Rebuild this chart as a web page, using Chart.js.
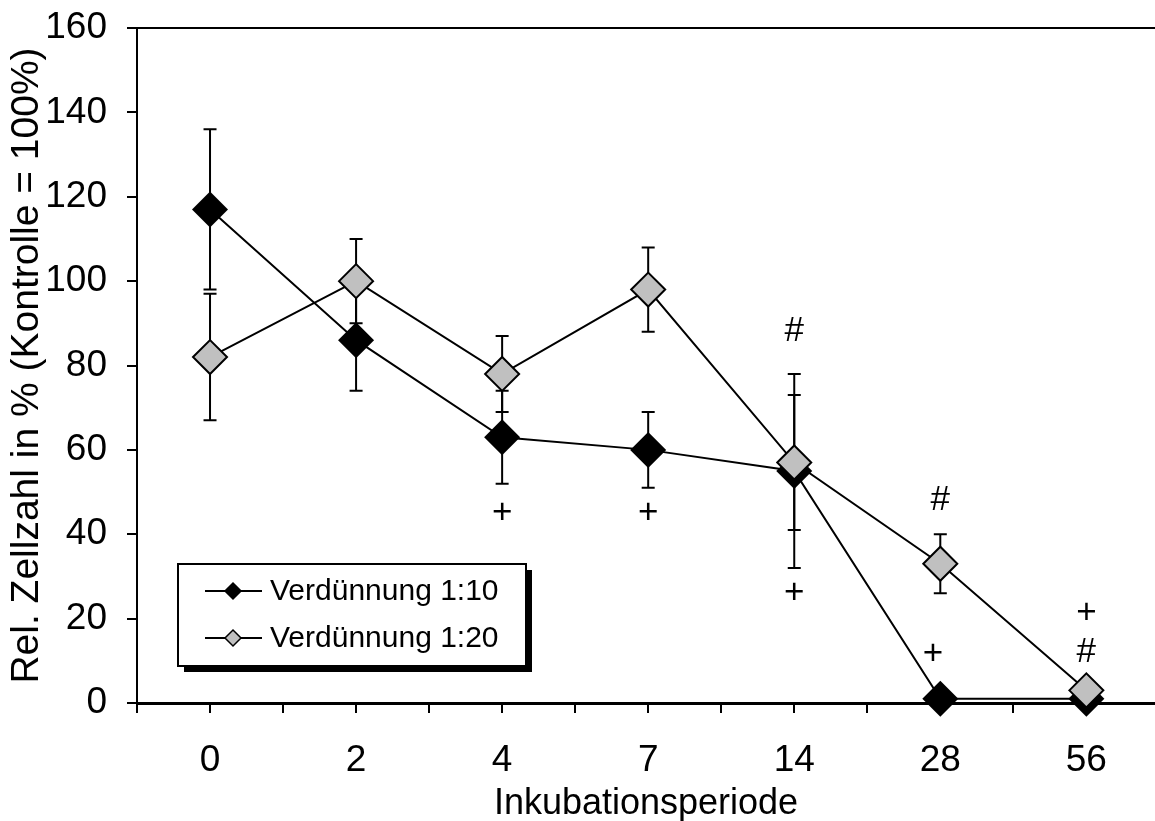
<!DOCTYPE html>
<html><head><meta charset="utf-8">
<script src="https://cdn.jsdelivr.net/npm/chart.js@4.4.0/dist/chart.umd.min.js"></script>
<style>html,body{margin:0;padding:0;background:#fff;overflow:hidden}#wrap{width:1155px;height:821px;position:relative}</style>
</head><body><div id="wrap"><canvas id="c" width="1155" height="821"></canvas></div>
<script>
const categories = ['0', '2', '4', '7', '14', '28', '56'];
const series1Name = 'Verdünnung 1:10';
const series1Values = [117, 86, 63, 60, 55, 1, 1];
const series1Errors = [19, 12, 11, 9, 23, 1, 1];
const series2Name = 'Verdünnung 1:20';
const series2Values = [82, 100, 78, 98, 57, 33, 3];
const series2Errors = [15, 10, 9, 10, 16, 7, 1];
const yTickValues = [0, 20, 40, 60, 80, 100, 120, 140, 160];
const annotSymbols = ['+', '+', '#', '+', '#', '+', '+', '#'];
const annotX = [2, 3, 4, 4, 5, 4.95, 6, 6];
const annotY = [45, 45, 88, 26, 48, 11.6, 21.3, 11.9];

const FONT = '"Liberation Sans", Arial, sans-serif';
const GREY = '#c0c0c0';

const toPoints = (vals) => vals.map((v, i) => ({x: i, y: v}));

const errorBarPlugin = {
  id: 'errorBars',
  beforeDatasetsDraw(chart) {
    const {ctx, scales: {x, y}, chartArea} = chart;
    ctx.save();
    ctx.strokeStyle = '#000';
    ctx.lineWidth = 2;
    ctx.beginPath();
    ctx.moveTo(chartArea.left, chartArea.top);
    ctx.lineTo(chartArea.right, chartArea.top);
    ctx.stroke();
    const sets = [[series1Values, series1Errors], [series2Values, series2Errors]];
    ctx.lineWidth = 2;
    sets.forEach(([vals, errs]) => {
      vals.forEach((v, i) => {
        const px = x.getPixelForValue(i);
        const top = y.getPixelForValue(v + errs[i]);
        const bot = y.getPixelForValue(v - errs[i]);
        ctx.beginPath();
        ctx.moveTo(px, top); ctx.lineTo(px, bot);
        ctx.moveTo(px - 6.5, top); ctx.lineTo(px + 6.5, top);
        ctx.moveTo(px - 6.5, bot); ctx.lineTo(px + 6.5, bot);
        ctx.stroke();
      });
    });
    ctx.restore();
  },
  afterDatasetsDraw(chart) {
    const {ctx, scales: {x, y}} = chart;
    ctx.save();
    ctx.fillStyle = '#000';
    ctx.font = '35px ' + FONT;
    ctx.textAlign = 'center';
    ctx.textBaseline = 'middle';
    annotSymbols.forEach((s, i) => {
      ctx.fillText(s, x.getPixelForValue(annotX[i]), y.getPixelForValue(annotY[i]));
    });
    ctx.restore();
  },
  afterDraw(chart) {
    const {ctx} = chart;
    ctx.save();
    const bx = 178, by = 564, bw = 348, bh = 102;
    ctx.fillStyle = '#000';
    ctx.fillRect(bx + 6, by + 6, bw, bh);
    ctx.fillStyle = '#fff';
    ctx.fillRect(bx, by, bw, bh);
    ctx.strokeStyle = '#000';
    ctx.lineWidth = 2;
    ctx.strokeRect(bx, by, bw, bh);
    const rows = [[series1Name, '#000', 591], [series2Name, GREY, 638]];
    rows.forEach(([name, fill, ry]) => {
      ctx.lineWidth = 2;
      ctx.strokeStyle = '#000';
      ctx.beginPath();
      ctx.moveTo(205, ry); ctx.lineTo(262, ry);
      ctx.stroke();
      const r = 8, cx = 233;
      ctx.beginPath();
      ctx.moveTo(cx, ry - r); ctx.lineTo(cx + r, ry); ctx.lineTo(cx, ry + r); ctx.lineTo(cx - r, ry); ctx.closePath();
      ctx.fillStyle = fill; ctx.fill();
      ctx.lineWidth = 1.5; ctx.stroke();
      ctx.fillStyle = '#000';
      ctx.font = '30px ' + FONT;
      ctx.textAlign = 'left';
      ctx.textBaseline = 'middle';
      ctx.fillText(name, 270, ry + 1);
    });
    ctx.restore();
  }
};

new Chart(document.getElementById('c'), {
  type: 'line',
  data: {
    datasets: [
      {
        label: series1Name,
        data: toPoints(series1Values),
        borderColor: '#000', borderWidth: 2,
        pointStyle: 'rectRot', pointRadius: 18,
        pointBackgroundColor: '#000', pointBorderColor: '#000', pointBorderWidth: 0,
        clip: false, order: 2, tension: 0
      },
      {
        label: series2Name,
        data: toPoints(series2Values),
        borderColor: '#000', borderWidth: 2,
        pointStyle: 'rectRot', pointRadius: 17,
        pointBackgroundColor: GREY, pointBorderColor: '#000', pointBorderWidth: 2,
        clip: false, order: 1, tension: 0
      }
    ]
  },
  options: {
    responsive: false,
    animation: false,
    devicePixelRatio: 1,
    events: [],
    layout: {autoPadding: false, padding: {left: 0, top: 28, right: 0, bottom: 0}},
    plugins: {legend: {display: false}, tooltip: {enabled: false}},
    scales: {
      x: {
        type: 'linear', position: 'bottom', min: -0.5, max: 6.47,
        afterBuildTicks(scale) {
          const t = [];
          for (let k = 0; k <= 13; k++) t.push({value: -0.5 + 0.5 * k});
          scale.ticks = t;
        },
        afterFit(scale) {
          scale.height = 118;
          scale.paddingLeft = 0; scale.paddingRight = 0;
          scale.paddingTop = 0; scale.paddingBottom = 0;
        },
        ticks: {
          autoSkip: false, maxRotation: 0, color: '#000', padding: 26,
          font: {family: FONT, size: 37},
          callback: (v) => Number.isInteger(v) ? categories[v] : ''
        },
        grid: {display: true, drawOnChartArea: false, drawTicks: true, tickLength: 10, color: '#000', lineWidth: 2},
        border: {display: true, color: '#000', width: 3},
        title: {display: true, text: 'Inkubationsperiode', color: '#000', font: {family: FONT, size: 36}, padding: {top: 0, bottom: -5}}
      },
      y: {
        type: 'linear', min: 0, max: 160,
        afterBuildTicks(scale) {
          const t = [];
          for (let v = 0; v <= 160; v += 10) t.push({value: v});
          scale.ticks = t;
        },
        afterFit(scale) {
          scale.width = 137;
          scale.paddingLeft = 0; scale.paddingRight = 0;
          scale.paddingTop = 0; scale.paddingBottom = 0;
        },
        ticks: {
          color: '#000', padding: 20,
          font: {family: FONT, size: 37},
          callback: (v) => yTickValues.includes(v) ? String(v) : ''
        },
        grid: {display: true, drawOnChartArea: false, drawTicks: true, tickLength: 10, color: '#000', lineWidth: 2},
        border: {display: true, color: '#000', width: 2},
        title: {display: true, text: 'Rel. Zellzahl in % (Kontrolle = 100%)', color: '#000', font: {family: FONT, size: 39}, padding: {top: 4, bottom: 0}}
      }
    }
  },
  plugins: [errorBarPlugin]
});
</script>
</body></html>
